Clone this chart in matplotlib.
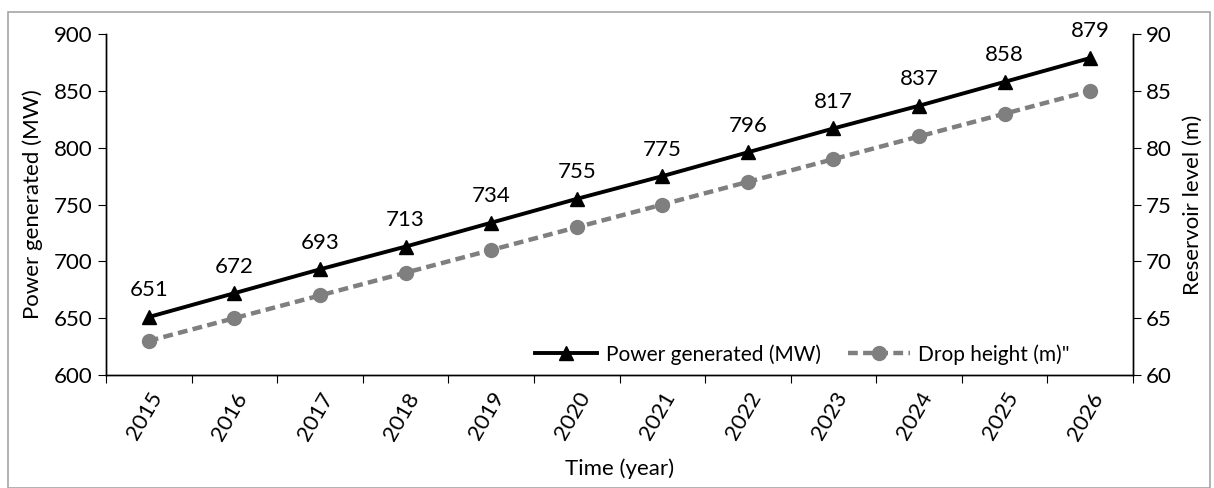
import matplotlib.pyplot as plt
from matplotlib.patches import Rectangle

years = ['2015', '2016', '2017', '2018', '2019', '2020',
         '2021', '2022', '2023', '2024', '2025', '2026']
power_mw = [651, 672, 693, 713, 734, 755, 775, 796, 817, 837, 858, 879]
drop_height_m = [63, 65, 67, 69, 71, 73, 75, 77, 79, 81, 83, 85]

plt.rcParams['font.family'] = ['Lato', 'DejaVu Sans']
fs = 16

fig = plt.figure(figsize=(12.14, 4.88), dpi=100)
# outer grey frame
fig.patches.append(Rectangle((0.007, 0.0), 0.99, 0.975, transform=fig.transFigure,
                             fill=False, edgecolor='#a6a6a6', linewidth=1.2))

ax = fig.add_axes([0.0873, 0.2316, 0.846, 0.6984])
ax2 = ax.twinx()

x = range(len(years))
l1, = ax.plot(x, power_mw, color='black', linewidth=2.8, marker='^', markersize=10,
              label='Power generated (MW)', zorder=3)
l2, = ax2.plot(x, drop_height_m, color='#7f7f7f', linewidth=3.2, linestyle=(0, (2.2, 1.2)),
               marker='o', markersize=10, label='Drop height (m)"')

for xi, v in zip(x, power_mw):
    ax.annotate(str(v), (xi, v), xytext=(0, 12), textcoords='offset points',
                ha='center', va='bottom', fontsize=fs)

ax.set_xlim(-0.5, len(years) - 0.5)
ax.set_ylim(600, 900)
ax.set_yticks(range(600, 901, 50))
ax2.set_ylim(60, 90)
ax2.set_yticks(range(60, 91, 5))

# Excel-style category ticks between labels
ax.set_xticks([i + 0.5 for i in range(-1, len(years))], minor=False)
ax.set_xticklabels([])
ax.set_xticks(list(x), minor=True)
ax.set_xticklabels(years, minor=True, rotation=60, ha='right', rotation_mode='anchor',
                   fontsize=fs)
ax.tick_params(axis='x', which='minor', length=0, pad=10)
ax.tick_params(axis='x', which='major', length=6, direction='out')

ax.tick_params(axis='y', labelsize=fs, length=6, direction='out')
ax2.tick_params(axis='y', labelsize=fs, length=6, direction='out')

for a in (ax, ax2):
    a.spines['top'].set_visible(False)
    for s in ('left', 'right', 'bottom'):
        a.spines[s].set_linewidth(1.0)

ax.set_ylabel('Power generated (MW)', fontsize=fs, labelpad=8)
ax2.set_ylabel('Reservoir level (m)', fontsize=fs, labelpad=8)
ax.set_xlabel('Time (year)', fontsize=fs, labelpad=11)

ax.set_zorder(ax2.get_zorder() + 1)
ax.patch.set_visible(False)

ax.legend(handles=[l1, l2], loc='lower right', ncol=2, frameon=False, fontsize=15,
          bbox_to_anchor=(0.957, -0.025), handlelength=3.0, columnspacing=1.3,
          handletextpad=0.4)

fig.savefig('out.png', dpi=100)
